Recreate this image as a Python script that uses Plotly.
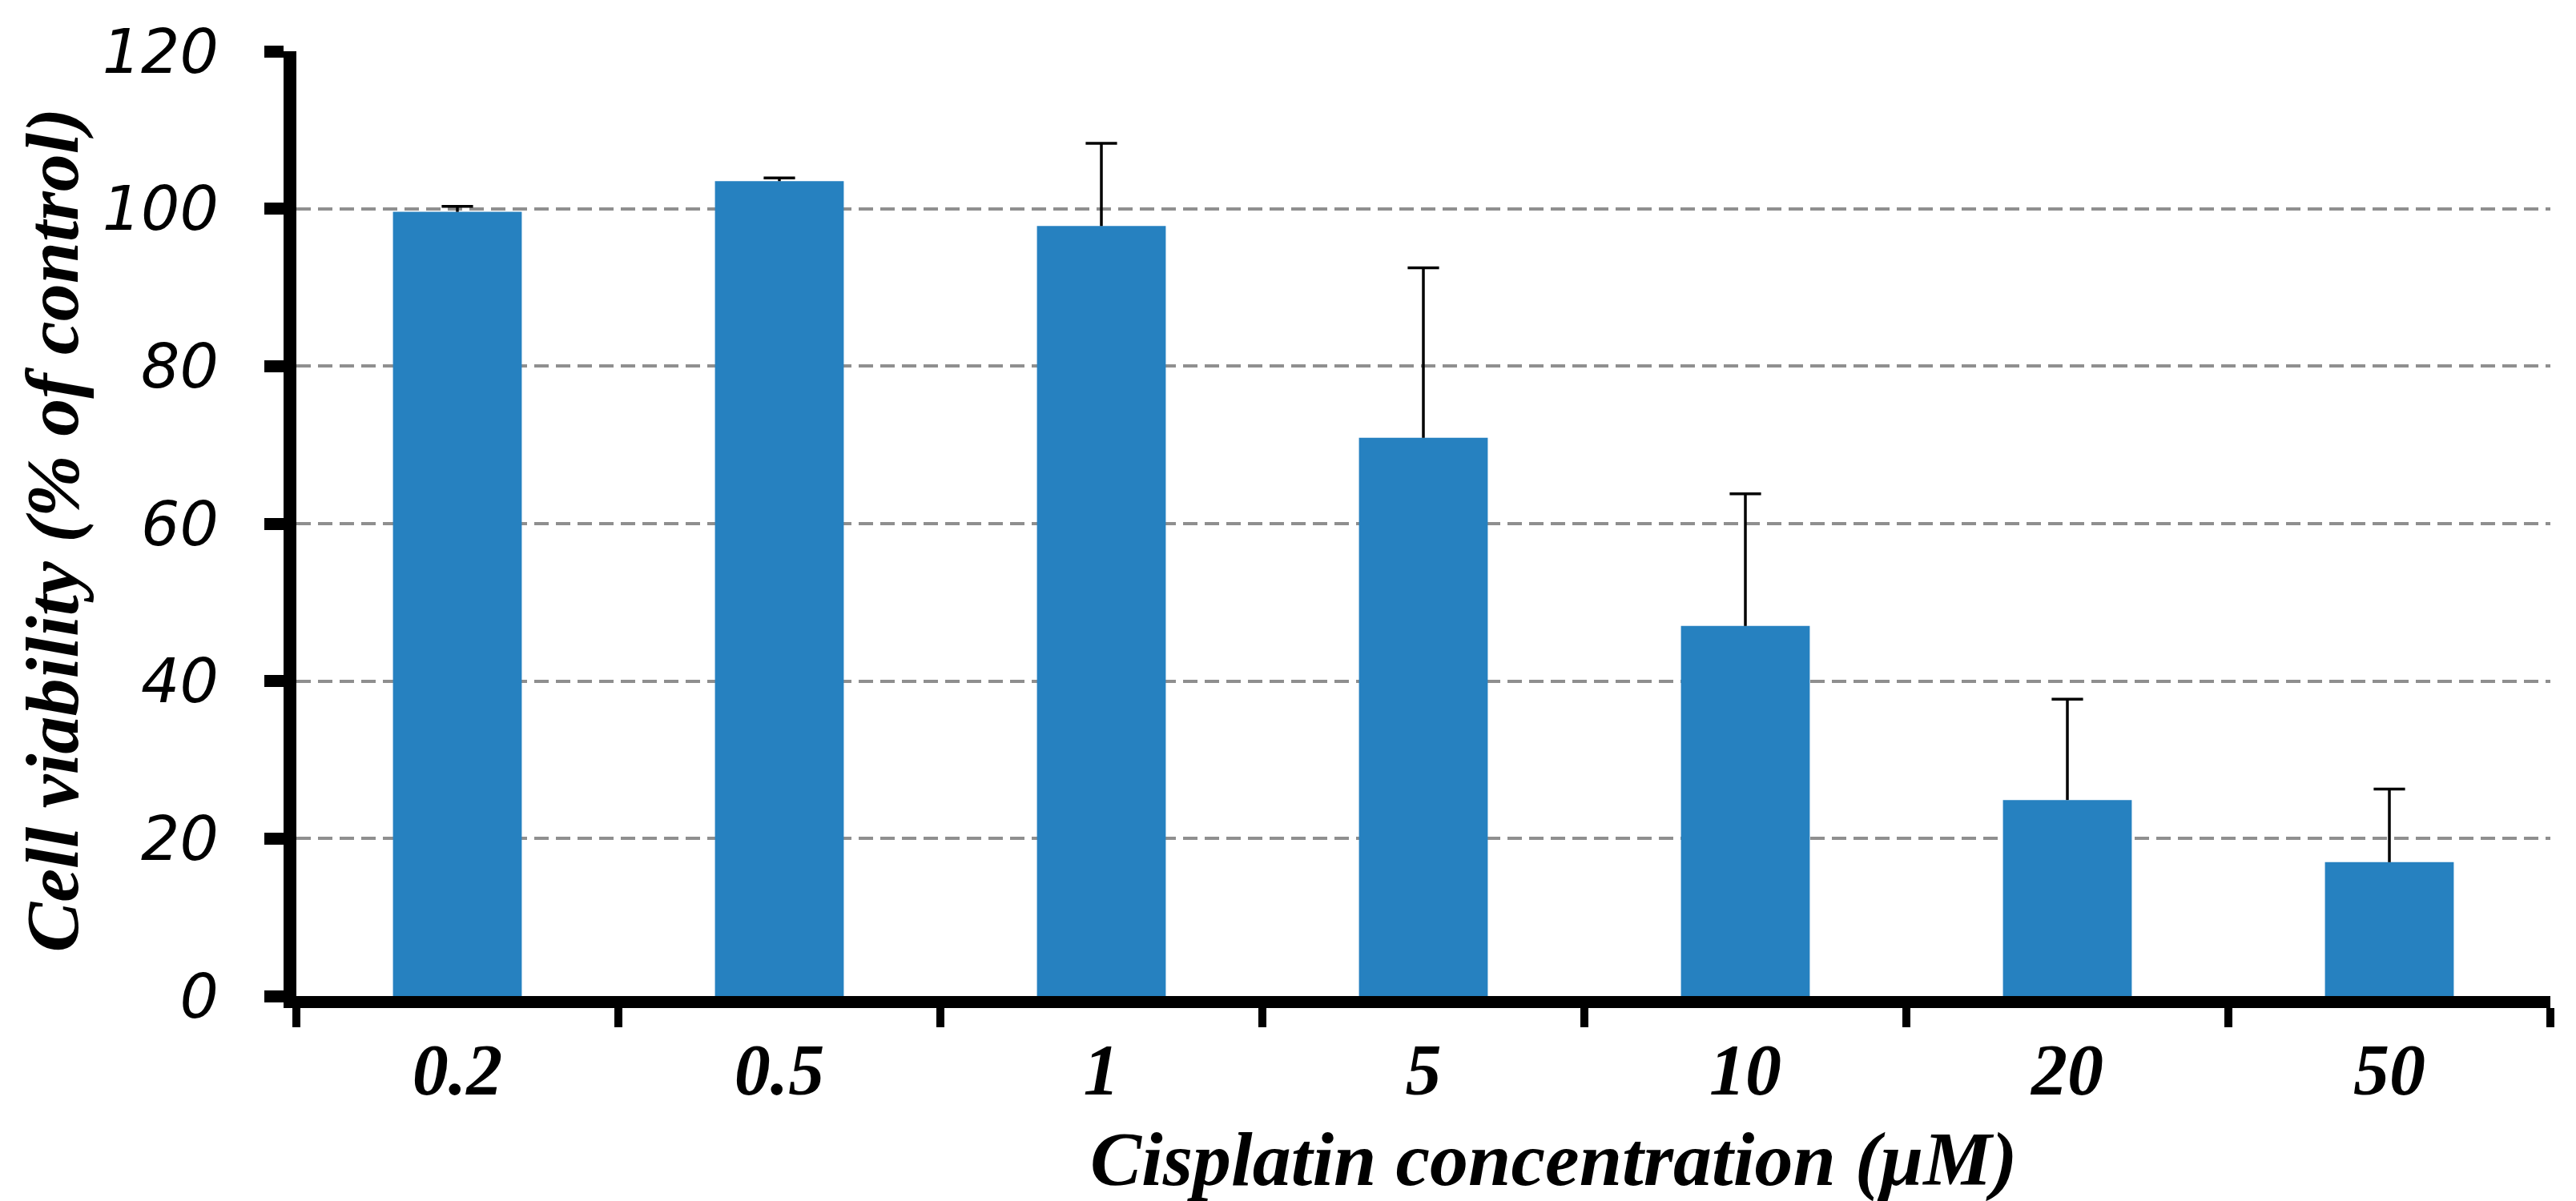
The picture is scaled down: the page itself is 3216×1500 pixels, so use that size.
import plotly.graph_objects as go

concentrations = ["0.2", "0.5", "1", "5", "10", "20", "50"]
viability = [99.6, 103.5, 97.8, 70.9, 47.0, 24.9, 17.0]
error_plus = [0.7, 0.4, 10.5, 21.6, 16.8, 12.8, 9.3]
y_ticks = [0, 20, 40, 60, 80, 100, 120]
x_title = "Cisplatin concentration (μM)"
y_title = "Cell viability (% of control)"

title_font = dict(family="Liberation Serif", color="black", weight="bold", style="italic")

fig = go.Figure()
fig.add_trace(go.Bar(
    x=concentrations,
    y=viability,
    marker=dict(color="#2681C0", line=dict(width=0)),
    error_y=dict(type="data", symmetric=False, array=error_plus,
                 arrayminus=[0] * len(error_plus),
                 color="black", thickness=3.5, width=0),
    width=0.4,
    hoverinfo="x+y",
))
# error-bar caps (upper end only)
fig.add_trace(go.Scatter(
    x=concentrations,
    y=[v + e for v, e in zip(viability, error_plus)],
    mode="markers",
    marker=dict(symbol="line-ew", size=28, color="black",
                line=dict(width=3.5, color="black")),
    hoverinfo="skip",
))

fig.update_layout(
    width=3216, height=1500,
    margin=dict(l=362, r=40, t=51, b=264),
    paper_bgcolor="white", plot_bgcolor="white",
    showlegend=False,
    xaxis=dict(
        type="category",
        showline=True, linecolor="black", linewidth=15,
        ticks="outside", tickson="boundaries", ticklen=24, tickwidth=10, tickcolor="black",
        showgrid=False, zeroline=False,
        tickfont=dict(family="Liberation Serif", size=90, color="black", weight="bold", style="italic"),
        ticklabelstandoff=0,
    ),
    yaxis=dict(
        range=[0, 120], tickvals=y_ticks,
        showline=True, linecolor="black", linewidth=16,
        ticks="outside", ticklen=24, tickwidth=15, tickcolor="black",
        showgrid=True, gridcolor="#8f8f8f", gridwidth=3.5, griddash="18px,9px",
        zeroline=False,
        tickfont=dict(family="DejaVu Sans", size=76, color="black", style="italic"),
        ticklabelstandoff=42,
    ),
    annotations=[
        dict(text=x_title, xref="paper", yref="paper", x=0.558, y=0,
             xanchor="center", yanchor="middle", yshift=-203, showarrow=False,
             font=dict(size=96, **title_font)),
        dict(text=y_title, xref="paper", yref="paper", x=0, y=0.4928,
             xanchor="center", yanchor="middle", xshift=-305, textangle=-90,
             showarrow=False, font=dict(size=94, **title_font)),
    ],
)

fig.write_html("out.html")
